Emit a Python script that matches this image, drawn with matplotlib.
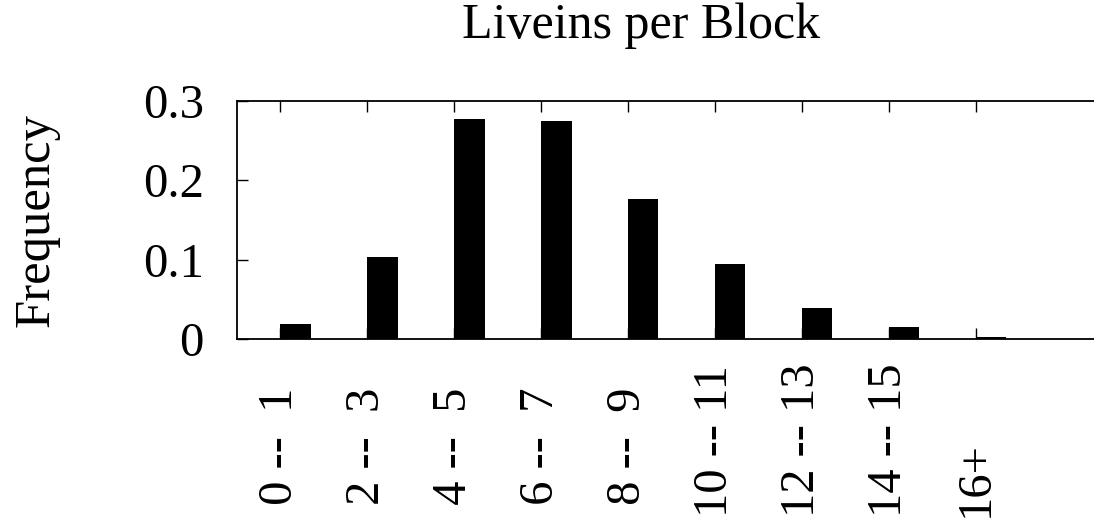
import matplotlib
matplotlib.use("Agg")
import matplotlib.pyplot as plt
import numpy as np

# Histogram of live-in counts per basic block
bins = [" 0 --  1", " 2 --  3", " 4 --  5", " 6 --  7", " 8 --  9",
        "10 -- 11", "12 -- 13", "14 -- 15", "16+"]
frequency = [0.019, 0.103, 0.277, 0.275, 0.177, 0.095, 0.039, 0.015, 0.002]
y_ticks = [0, 0.1, 0.2, 0.3]
y_tick_labels = ["0", "0.1", "0.2", "0.3"]

plt.rcParams["font.family"] = ["Liberation Serif", "DejaVu Serif"]
plt.rcParams["font.size"] = 35

W, H = 1094, 519
fig = plt.figure(figsize=(W / 100, H / 100), dpi=100)

# plot area in pixel terms (right edge runs slightly past the canvas)
left_px, right_px, top_px, bottom_px = 237, 1106, 101, 339
ax = fig.add_axes([left_px / W, 1 - bottom_px / H,
                   (right_px - left_px) / W, (bottom_px - top_px) / H])

x = np.arange(len(bins))
ax.bar(x, frequency, width=0.35, align="edge", color="black", edgecolor="none")

ax.set_xlim(-0.5, len(bins) + 0.5)
ax.set_ylim(0, 0.3)
ax.set_xticks(x)
# rotated labels start from a common baseline near the bottom of the canvas
ax.set_xticklabels(bins, rotation=90, ha="center", va="bottom")
ax.set_yticks(y_ticks)
ax.set_yticklabels(y_tick_labels)

label_start_px = 517
ax.tick_params(axis="both", direction="in", length=8, width=1.0,
               top=True, right=True)
ax.tick_params(axis="x", pad=(label_start_px - bottom_px) * 0.72)
ax.tick_params(axis="y", pad=24)

for sp in ax.spines.values():
    sp.set_linewidth(1.3)

fig.text(641 / W, 1 - 38 / H, "Liveins per Block", ha="center",
         va="baseline", fontsize=36)
fig.text(36 / W, 1 - 220 / H, "Frequency", rotation=90, ha="center",
         va="center", fontsize=36.5)

fig.savefig("out.png", dpi=100)
